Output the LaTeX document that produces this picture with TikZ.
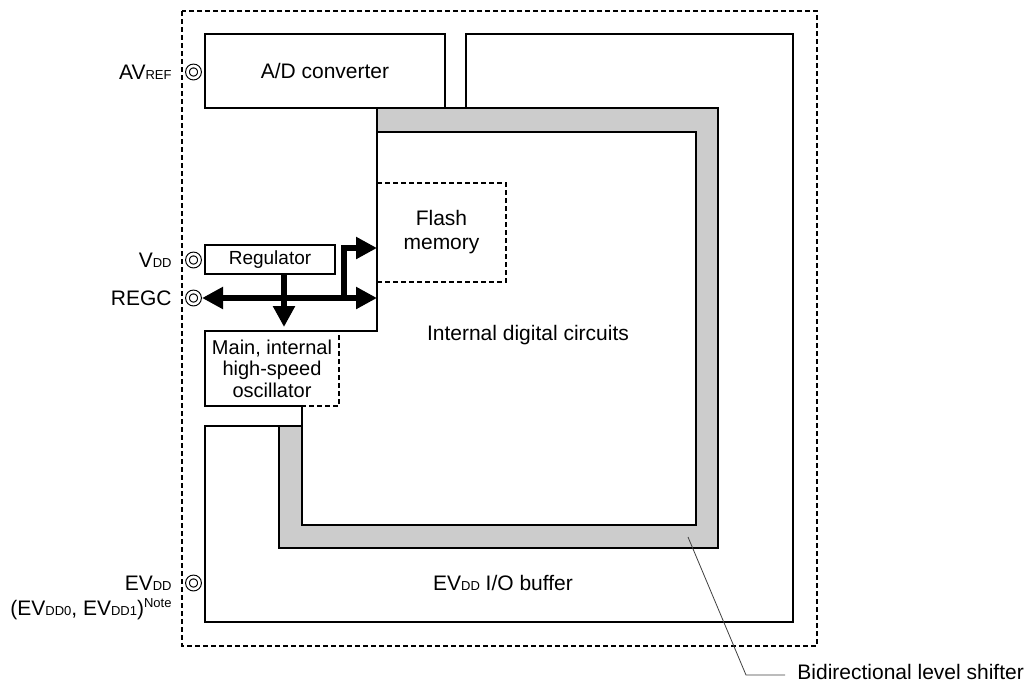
\documentclass[tikz,border=0pt]{standalone}
\usepackage{fontspec}
\setmainfont{Liberation Sans}
\usetikzlibrary{positioning, arrows.meta}

\newcommand{\subtx}[1]{{\fontsize{6.5}{6.5}\selectfont #1}}

\begin{document}
\begin{tikzpicture}[
  x=0.5pt, y=-0.5pt,
  font=\fontsize{10.5}{12}\selectfont,
  wall/.style={line width=1pt, line join=miter},
  dashwall/.style={line width=1pt, dash pattern=on 2.5pt off 1.5pt},
  block/.style={draw, line width=1pt, inner sep=0pt, align=center},
  padcirc/.style={circle, draw, double, double distance=1.3pt, line width=0.55pt,
    minimum size=6pt, inner sep=0pt},
  padlbl/.style={inner sep=0pt, left=7.5pt of #1},
  bus/.style={line width=2.75pt, line cap=butt, line join=miter},
  tip/.style={-{Triangle[length=10.5pt, width=10.5pt]}},
  leader/.style={line width=0.4pt, draw=black!75},
]
  \useasboundingbox (0,0) rectangle (1029,681);

  \draw[dashwall] (182,11) rectangle (817,646);

  % EVDD I/O buffer and level shifter
  \draw[wall] (466,108) -- (466,34) -- (793,34) -- (793,622) -- (205,622) -- (205,426) -- (279,426);
  \draw[wall, fill=black!20] (377,108) -- (718,108) -- (718,548) -- (279,548) -- (279,426)
    -- (302,426) -- (302,525) -- (696,525) -- (696,132) -- (377,132) -- cycle;

  \node[block, minimum width=120pt, minimum height=37pt] (adc) at (325,71) {A/D converter};
  \node[block, dashwall, minimum width=64.5pt, minimum height=49.5pt] (flash) at (441.5,232.5) {Flash\\memory};
  \node[block, dashwall, minimum width=67pt, minimum height=37.5pt,
    font=\fontsize{10}{10.75}\selectfont] (osc) at (272,368.5) {Main, internal\\high-speed\\oscillator};
  \node[block, minimum width=65pt, minimum height=14.5pt,
    font=\fontsize{9.5}{10}\selectfont] (reg) at (270,259.5) {Regulator};

  % internal digital circuits
  \draw[wall] (377,108) -- (377,331) -- (205,331) -- (205,406) -- (302,406) -- (302,426);
  \node (core) at (528,335) {Internal digital circuits};
  \node (iobuf) at (503,583) {EV\subtx{DD} I/O buffer};

  \node[padcirc] (avref) at (193.5,72) {};
  \node[padcirc] (vdd)   at (193.5,260) {};
  \node[padcirc] (regc)  at (193.5,298) {};
  \node[padcirc] (evdd)  at (193.5,583) {};

  \node[padlbl=avref] (avrefl) {AV\subtx{REF}};
  \node[padlbl=vdd]   (vddl)   {V\subtx{DD}};
  \node[padlbl=regc]  (regcl)  {REGC};
  \node[padlbl=evdd]  (evddl)  {EV\subtx{DD}};
  \node[inner sep=0pt, anchor=base east] (evddalt) at ([yshift=-12.5pt]evddl.base east)
    {(EV\subtx{DD0}, EV\subtx{DD1})\raisebox{4pt}{\subtx{Note}}};

  \coordinate (busend)  at (377,298);
  \coordinate (busfork) at (344,298);
  \coordinate (flashin) at (377,248);
  \coordinate (regtap)  at (284,274);

  \draw[bus, {Triangle[length=10.5pt, width=10.5pt]}-{Triangle[length=10.5pt, width=10.5pt]}, shorten <=1pt] (regc) -- (busend);
  \draw[bus, tip] (busfork) |- (flashin);
  \draw[bus, tip, shorten >=1.5pt] (regtap) -- (regtap |- osc.north);

  \node[anchor=west, inner sep=6pt] (shiftl) at (785,672) {Bidirectional level shifter};
  \coordinate (shiftpt)  at (688,537);
  \coordinate (shiftbnd) at (746,675);
  \draw[leader] (shiftpt) -- (shiftbnd) -- (shiftbnd -| shiftl.west);
\end{tikzpicture}
\end{document}
